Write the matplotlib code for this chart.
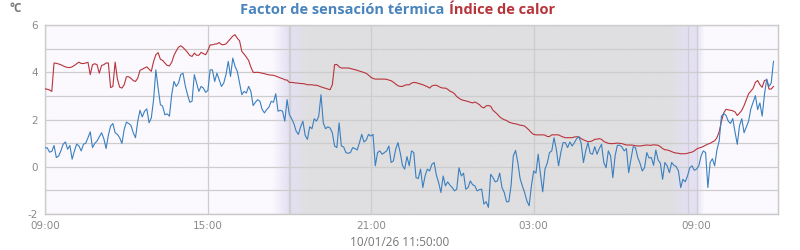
import numpy as np
import matplotlib
matplotlib.use("Agg")
import matplotlib.pyplot as plt
from matplotlib.colors import to_rgb

# readings every 5 minutes, starting 09:00 (hours since 09:00 on the x axis)
wind_chill = [
    0.80, 0.80, 0.62, 0.65, 0.90, 0.39, 0.45, 0.67, 0.95, 1.05,
    0.74, 0.90, 0.32, 0.67, 0.96, 0.88, 0.67, 0.95, 1.00, 1.23,
    1.48, 0.81, 0.99, 1.09, 1.27, 1.44, 1.19, 0.77, 1.33, 1.72,
    1.83, 1.44, 1.37, 1.23, 0.99, 1.58, 1.89, 1.83, 1.75, 1.44,
    1.23, 1.93, 2.39, 2.11, 2.35, 2.45, 1.86, 2.07, 2.84, 4.10,
    3.33, 2.63, 2.56, 2.20, 2.24, 2.14, 3.05, 3.61, 3.40, 3.54,
    3.90, 3.96, 3.43, 3.05, 2.73, 2.77, 3.90, 3.54, 3.19, 3.40,
    3.33, 3.15, 3.23, 4.10, 4.10, 3.61, 3.96, 3.68, 3.40, 3.54,
    3.90, 4.46, 3.82, 4.60, 4.25, 4.04, 3.54, 3.05, 3.19, 3.12,
    3.40, 3.19, 2.59, 2.73, 2.84, 2.77, 2.42, 2.28, 2.42, 2.53,
    2.77, 2.73, 3.09, 2.35, 2.39, 2.35, 1.93, 2.84, 2.21, 2.04,
    1.83, 1.51, 1.37, 1.69, 1.93, 1.33, 1.16, 1.69, 1.61, 2.03,
    1.93, 2.14, 3.05, 1.86, 1.61, 1.69, 1.64, 1.44, 0.88, 0.81,
    1.86, 0.88, 0.84, 0.60, 0.57, 0.60, 0.81, 0.77, 0.71, 1.02,
    1.37, 1.05, 1.13, 1.37, 1.30, 1.37, 0.04, 0.60, 0.67, 0.53,
    0.60, 0.67, 0.88, 0.18, 0.25, 0.74, 1.02, 0.60, 0.06, -0.10,
    0.43, 0.04, 0.67, 0.60, -0.46, -0.50, -0.10, -0.88, -0.39, -0.10,
    -0.18, 0.10, 0.18, -0.36, -0.67, -1.09, -0.39, -0.81, -0.64, -0.78,
    -0.88, -1.02, -0.95, -0.04, -0.39, -0.27, -0.95, -0.88, -0.60, -0.76,
    -0.81, -1.02, -0.97, -0.95, -1.58, -1.48, -1.72, -0.32, -0.46, -0.64,
    -0.60, -0.27, -0.88, -1.09, -1.48, -1.48, -0.81, 0.46, 0.69, 0.18,
    -0.50, -0.81, -1.09, -1.45, -1.65, -0.81, -0.18, -0.27, 0.53, -0.32,
    -1.06, -0.10, 0.15, 0.60, 0.67, 1.23, 0.74, 0.04, 0.60, 1.02,
    1.02, 0.81, 1.05, 0.88, 1.02, 1.19, 1.27, 0.99, 0.18, 0.67,
    1.02, 0.57, 0.53, 0.85, 0.53, 0.77, 0.95, 0.18, -0.04, 0.67,
    0.46, -0.46, 0.46, 0.91, 0.91, 0.84, 0.67, 0.77, -0.25, 0.32,
    0.85, 0.81, 0.39, 0.15, -0.18, -0.04, 0.60, 0.37, 0.39, 0.06,
    0.71, 0.29, 0.15, -0.53, 0.18, 0.04, -0.25, 0.18, 0.06, 0.01,
    -0.18, -0.88, -0.53, -0.64, -0.39, -0.04, 0.04, -0.15, -0.10, 0.04,
    0.46, 0.67, 0.60, -0.88, 0.18, 0.34, 0.04, 0.71, 1.09, 2.14,
    2.25, 2.18, 1.93, 1.83, 2.04, 1.47, 0.95, 1.75, 2.03, 1.44,
    1.69, 1.93, 2.45, 2.73, 3.01, 2.42, 2.70, 2.14, 3.05, 3.71,
    3.40, 3.54, 4.46,
]

heat_index = [
    3.30, 3.28, 3.25, 3.19, 4.39, 4.38, 4.35, 4.32, 4.27, 4.23,
    4.20, 4.20, 4.23, 4.29, 4.36, 4.43, 4.37, 4.37, 4.39, 4.42,
    3.90, 4.32, 4.36, 4.32, 3.96, 4.29, 4.32, 4.39, 4.39, 3.35,
    3.40, 4.43, 3.71, 3.37, 3.33, 3.47, 3.81, 3.81, 3.74, 3.65,
    3.61, 3.75, 4.08, 4.13, 4.18, 4.23, 4.13, 4.04, 4.46, 4.74,
    4.83, 4.55, 4.50, 4.39, 4.29, 4.27, 4.42, 4.71, 4.90, 5.06,
    5.12, 5.05, 4.95, 4.84, 4.71, 4.67, 4.81, 4.72, 4.72, 4.84,
    4.79, 4.74, 4.92, 5.16, 5.16, 5.19, 5.20, 5.26, 5.17, 5.17,
    5.20, 5.31, 5.42, 5.53, 5.59, 5.44, 5.33, 4.88, 4.77, 4.64,
    4.50, 4.22, 4.00, 3.99, 4.00, 3.98, 3.96, 3.94, 3.91, 3.89,
    3.88, 3.87, 3.84, 3.80, 3.76, 3.73, 3.68, 3.67, 3.57, 3.57,
    3.56, 3.54, 3.54, 3.52, 3.52, 3.50, 3.47, 3.47, 3.47, 3.45,
    3.45, 3.42, 3.38, 3.35, 3.32, 3.29, 3.26, 3.47, 4.32, 4.33,
    4.23, 4.18, 4.18, 4.18, 4.18, 4.16, 4.13, 4.11, 4.08, 4.05,
    4.02, 3.99, 3.95, 3.88, 3.79, 3.74, 3.71, 3.71, 3.71, 3.71,
    3.71, 3.70, 3.67, 3.64, 3.58, 3.50, 3.43, 3.40, 3.40, 3.45,
    3.47, 3.47, 3.54, 3.57, 3.56, 3.53, 3.50, 3.47, 3.43, 3.39,
    3.33, 3.42, 3.45, 3.45, 3.40, 3.35, 3.33, 3.33, 3.28, 3.20,
    3.16, 3.09, 2.97, 2.90, 2.84, 2.81, 2.79, 2.76, 2.73, 2.70,
    2.74, 2.69, 2.63, 2.53, 2.49, 2.58, 2.59, 2.56, 2.39, 2.31,
    2.22, 2.11, 2.04, 1.99, 1.96, 1.89, 1.86, 1.83, 1.82, 1.79,
    1.76, 1.75, 1.72, 1.64, 1.55, 1.44, 1.37, 1.35, 1.35, 1.35,
    1.35, 1.34, 1.28, 1.28, 1.35, 1.35, 1.35, 1.35, 1.30, 1.26,
    1.23, 1.23, 1.23, 1.23, 1.26, 1.27, 1.26, 1.19, 1.14, 1.10,
    1.06, 1.07, 1.10, 1.16, 1.17, 1.19, 1.16, 1.07, 1.03, 0.99,
    0.98, 0.98, 0.99, 1.00, 0.99, 0.98, 0.95, 0.92, 0.92, 0.92,
    0.91, 0.89, 0.88, 0.88, 0.89, 0.91, 0.92, 0.91, 0.91, 0.93,
    0.92, 0.91, 0.85, 0.77, 0.72, 0.71, 0.68, 0.64, 0.60, 0.58,
    0.57, 0.55, 0.55, 0.55, 0.57, 0.60, 0.62, 0.67, 0.75, 0.79,
    0.82, 0.86, 0.91, 0.96, 0.99, 1.05, 1.10, 1.23, 1.48, 1.93,
    2.28, 2.43, 2.41, 2.39, 2.37, 2.32, 2.17, 2.27, 2.39, 2.59,
    2.84, 3.09, 3.20, 3.32, 3.57, 3.65, 3.47, 3.36, 3.65, 3.68,
    3.29, 3.29, 3.40,
]

hours = np.arange(len(wind_chill)) * 5 / 60
tick_pos = [0, 6, 12, 18, 24]
tick_labels = ["09:00", "15:00", "21:00", "03:00", "09:00"]
# sunset / sunrise markers (hours since 09:00)
sun_lines = [8.97, 9.03, 23.68]

blue = "#3a7fbf"
red = "#b8343b"
day = "#fbf9fe"
night = "#dfdfe1"
dusk = "#e4e0f3"

fig = plt.figure(figsize=(8, 2.5), dpi=100)
ax = fig.add_axes([45 / 800, 36 / 250, 733 / 800, 189 / 250])

# day / twilight / night background
stops = [0, 8.38, 8.97, 9.75, 23.0, 23.68, 24.0, 24.3, 27]
cols = [day, day, dusk, night, night, dusk, dusk, day, day]
xs = np.linspace(0, 27, 1000)
rgb = np.array([to_rgb(c) for c in cols])
img = np.stack([np.interp(xs, stops, rgb[:, k]) for k in range(3)], axis=-1)
ax.imshow(img[np.newaxis, :, :], extent=[0, 27, -2, 6], aspect="auto", zorder=0)

for s in sun_lines:
    ax.axvline(s, color="#cfcfd4", lw=0.9, zorder=1)

ax.plot(hours, heat_index, color=red, lw=0.8, zorder=3)
ax.plot(hours, wind_chill, color=blue, lw=0.8, zorder=4)

ax.set_xlim(0, 27)
ax.set_ylim(-2, 6)
ax.set_xticks(tick_pos)
ax.set_xticklabels(tick_labels)
ax.set_yticks(range(-2, 7))
ax.set_yticklabels([str(v) if v % 2 == 0 else "" for v in range(-2, 7)])
ax.grid(True, color="#cdcdcd", lw=0.9, zorder=2)
ax.set_axisbelow(False)
for line in ax.get_xgridlines() + ax.get_ygridlines():
    line.set_zorder(2)
ax.tick_params(length=0, labelsize=7.5, labelcolor="#8a8a8a", pad=5)
for sp in ax.spines.values():
    sp.set_color("#c8c8c8")
    sp.set_linewidth(1)

fig.text(444 / 800, 1 - 10 / 250, "Factor de sensación térmica", color="#4a84bd",
         fontsize=10.5, fontweight="bold", family="Open Sans", ha="right", va="center")
fig.text(449 / 800, 1 - 10 / 250, "Índice de calor", color=red,
         fontsize=10.5, fontweight="bold", family="Open Sans", ha="left", va="center")
fig.text(10 / 800, 1 - 8 / 250, "°C", color="#777777", fontsize=8.5,
         fontweight="bold", family="Open Sans", ha="left", va="center")
fig.text(400 / 800, 1 - 242 / 250, "10/01/26 11:50:00", color="#777777",
         fontsize=8.5, family="Open Sans", ha="center", va="center")

fig.savefig("out.png", dpi=100)
